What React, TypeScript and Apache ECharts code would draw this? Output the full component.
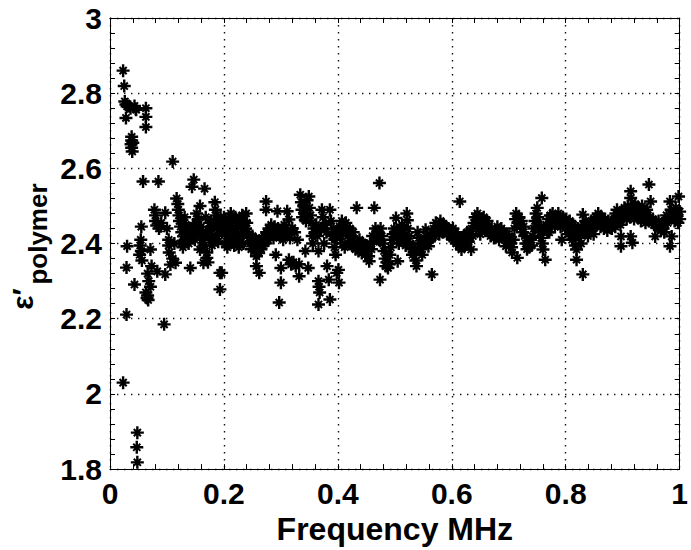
import React, { useEffect, useRef } from "react";
import * as echarts from "echarts";

const xTicks = [0, 0.2, 0.4, 0.6, 0.8, 1];
const yTicks = [1.8, 2, 2.2, 2.4, 2.6, 2.8, 3];
const xTitle = "Frequency MHz";
const yTitleMain = "ε′";
const yTitleSub = "polymer";

// [frequency MHz, permittivity]
const lowBand: number[][] = [
  [0.023, 2.86], [0.025, 2.819], [0.023, 2.03], [0.026, 2.778], [0.028, 2.77], [0.03, 2.765], [0.028, 2.734], [0.029, 2.336], [0.03, 2.393], [0.029, 2.211],
  [0.033, 2.766], [0.036, 2.76], [0.038, 2.684], [0.038, 2.674], [0.037, 2.664], [0.038, 2.655], [0.039, 2.645], [0.04, 2.668],
  [0.043, 2.766], [0.045, 2.758], [0.046, 2.756], [0.043, 2.291], [0.048, 1.897], [0.047, 1.858], [0.048, 1.818],
  [0.054, 2.41], [0.053, 2.395], [0.055, 2.38], [0.052, 2.37], [0.056, 2.355], [0.055, 2.445], [0.058, 2.565],
  [0.063, 2.76], [0.063, 2.737], [0.063, 2.71], [0.063, 2.27], [0.065, 2.255], [0.066, 2.262], [0.067, 2.25], [0.066, 2.32], [0.068, 2.3], [0.071, 2.285], [0.071, 2.384], [0.073, 2.34],
  [0.078, 2.49], [0.08, 2.475], [0.08, 2.46], [0.082, 2.448], [0.083, 2.326], [0.085, 2.565], [0.086, 2.44], [0.089, 2.446], [0.09, 2.455],
  [0.095, 2.185], [0.097, 2.482], [0.097, 2.318], [0.1, 2.44], [0.103, 2.41], [0.103, 2.395], [0.104, 2.376], [0.106, 2.344], [0.11, 2.618], [0.11, 2.36], [0.113, 2.4], [0.115, 2.349],
  [0.117, 2.52], [0.119, 2.505], [0.12, 2.49], [0.121, 2.475], [0.122, 2.46], [0.124, 2.445], [0.126, 2.43], [0.129, 2.419], [0.131, 2.47], [0.133, 2.45], [0.135, 2.44], [0.137, 2.425],
  [0.141, 2.335], [0.144, 2.551], [0.147, 2.57], [0.149, 2.43], [0.149, 2.41], [0.152, 2.48], [0.155, 2.465], [0.158, 2.5], [0.158, 2.384], [0.16, 2.445], [0.163, 2.43], [0.164, 2.349], [0.166, 2.546], [0.168, 2.47], [0.17, 2.376], [0.17, 2.362], [0.172, 2.35], [0.175, 2.455], [0.178, 2.44], [0.18, 2.42],
  [0.184, 2.51], [0.185, 2.49], [0.186, 2.475], [0.187, 2.465], [0.189, 2.45], [0.191, 2.435], [0.193, 2.322], [0.193, 2.278], [0.195, 2.44], [0.196, 2.322], [0.198, 2.455],
  [0.125, 2.4], [0.128, 2.39], [0.132, 2.41], [0.138, 2.4], [0.143, 2.42], [0.146, 2.445], [0.15, 2.455], [0.154, 2.44], [0.157, 2.425], [0.161, 2.41], [0.165, 2.395], [0.167, 2.42], [0.173, 2.435], [0.176, 2.41], [0.179, 2.395], [0.182, 2.45], [0.188, 2.42], [0.19, 2.405], [0.194, 2.47], [0.197, 2.43],
];

const band2to4: number[][] = [
  [0.2, 2.47], [0.201, 2.44], [0.202, 2.4], [0.204, 2.455], [0.205, 2.42], [0.206, 2.39], [0.208, 2.465], [0.209, 2.435], [0.21, 2.405], [0.212, 2.48], [0.213, 2.445], [0.214, 2.415], [0.216, 2.46], [0.217, 2.43], [0.218, 2.395], [0.22, 2.47], [0.221, 2.44], [0.222, 2.41], [0.224, 2.455], [0.225, 2.425], [0.226, 2.39], [0.228, 2.465], [0.229, 2.445], [0.23, 2.42], [0.232, 2.475], [0.233, 2.45], [0.234, 2.4], [0.236, 2.46], [0.238, 2.44], [0.239, 2.48], [0.24, 2.455], [0.241, 2.43],
  [0.244, 2.415], [0.246, 2.4], [0.248, 2.385], [0.25, 2.42], [0.252, 2.395], [0.254, 2.38], [0.256, 2.41], [0.257, 2.366], [0.257, 2.34], [0.259, 2.39], [0.261, 2.375], [0.262, 2.322], [0.263, 2.405], [0.265, 2.385], [0.267, 2.415], [0.269, 2.395], [0.271, 2.42], [0.272, 2.4], [0.274, 2.512], [0.274, 2.49], [0.275, 2.43], [0.277, 2.41], [0.279, 2.44], [0.281, 2.42], [0.283, 2.45],
  [0.285, 2.43], [0.287, 2.415], [0.289, 2.445], [0.291, 2.37], [0.292, 2.425], [0.294, 2.486], [0.295, 2.44], [0.297, 2.243], [0.298, 2.42], [0.3, 2.335], [0.3, 2.296], [0.302, 2.43], [0.304, 2.41], [0.306, 2.45], [0.308, 2.425], [0.311, 2.486], [0.312, 2.435], [0.314, 2.464], [0.314, 2.357], [0.316, 2.415], [0.318, 2.345], [0.32, 2.441], [0.322, 2.35], [0.324, 2.43], [0.326, 2.34], [0.329, 2.41], [0.332, 2.313], [0.332, 2.345],
  [0.334, 2.53], [0.336, 2.51], [0.337, 2.49], [0.338, 2.47], [0.34, 2.5], [0.342, 2.48], [0.343, 2.38], [0.344, 2.46], [0.346, 2.515], [0.348, 2.335], [0.349, 2.525], [0.35, 2.495], [0.352, 2.475], [0.354, 2.455], [0.355, 2.42], [0.356, 2.4], [0.358, 2.44], [0.36, 2.43], [0.362, 2.45],
  [0.364, 2.42], [0.366, 2.38], [0.366, 2.3], [0.367, 2.285], [0.366, 2.238], [0.368, 2.27], [0.37, 2.44], [0.372, 2.49], [0.374, 2.47], [0.376, 2.4], [0.378, 2.45], [0.38, 2.43], [0.381, 2.34], [0.384, 2.304], [0.386, 2.49], [0.386, 2.251], [0.388, 2.46], [0.39, 2.42], [0.392, 2.44], [0.394, 2.39], [0.395, 2.41], [0.396, 2.37], [0.398, 2.322], [0.399, 2.43],
];

const band4to6: number[][] = [
  [0.401, 2.33], [0.402, 2.296], [0.403, 2.445], [0.405, 2.42], [0.407, 2.46], [0.408, 2.4], [0.41, 2.435], [0.412, 2.39], [0.414, 2.455], [0.415, 2.44], [0.417, 2.42], [0.419, 2.4], [0.421, 2.44], [0.423, 2.42], [0.425, 2.395], [0.427, 2.43], [0.429, 2.41], [0.431, 2.385], [0.433, 2.495], [0.434, 2.405], [0.436, 2.38], [0.438, 2.41], [0.44, 2.395], [0.442, 2.375], [0.444, 2.4], [0.446, 2.385], [0.448, 2.37], [0.45, 2.395], [0.452, 2.38], [0.454, 2.366], [0.455, 2.353], [0.457, 2.4], [0.459, 2.385], [0.461, 2.42], [0.463, 2.405], [0.464, 2.495], [0.466, 2.44], [0.468, 2.42], [0.47, 2.43], [0.472, 2.41], [0.473, 2.561], [0.474, 2.304], [0.475, 2.44], [0.477, 2.42], [0.479, 2.4], [0.481, 2.38], [0.483, 2.36], [0.484, 2.34], [0.486, 2.35], [0.488, 2.335], [0.49, 2.345], [0.491, 2.37], [0.493, 2.39], [0.495, 2.41], [0.497, 2.425], [0.499, 2.44],
  [0.501, 2.43], [0.502, 2.468], [0.504, 2.415], [0.505, 2.353], [0.507, 2.4], [0.509, 2.44], [0.511, 2.425], [0.513, 2.45], [0.515, 2.435], [0.517, 2.41], [0.519, 2.395], [0.521, 2.48], [0.522, 2.462], [0.523, 2.44], [0.525, 2.42], [0.527, 2.4], [0.529, 2.385], [0.531, 2.37], [0.533, 2.39], [0.535, 2.376], [0.537, 2.355], [0.538, 2.34], [0.54, 2.43], [0.542, 2.415], [0.544, 2.4], [0.546, 2.385], [0.548, 2.37], [0.55, 2.395], [0.552, 2.41], [0.554, 2.437], [0.556, 2.42], [0.558, 2.405], [0.559, 2.393], [0.562, 2.41], [0.565, 2.318], [0.566, 2.425], [0.568, 2.44], [0.57, 2.42], [0.572, 2.455], [0.574, 2.435], [0.576, 2.445], [0.578, 2.425], [0.58, 2.46], [0.582, 2.44], [0.584, 2.43], [0.586, 2.45], [0.588, 2.435], [0.59, 2.445], [0.592, 2.425], [0.594, 2.44], [0.596, 2.42], [0.598, 2.435],
];

const band6to8: number[][] = [
  [0.6, 2.42], [0.602, 2.44], [0.604, 2.41], [0.606, 2.43], [0.608, 2.4], [0.61, 2.42], [0.612, 2.395], [0.614, 2.512], [0.615, 2.41], [0.617, 2.384], [0.619, 2.4], [0.621, 2.42], [0.623, 2.395], [0.625, 2.41], [0.627, 2.43], [0.629, 2.405], [0.631, 2.42], [0.634, 2.384], [0.635, 2.44], [0.637, 2.42], [0.639, 2.455], [0.641, 2.47], [0.643, 2.445], [0.645, 2.48], [0.647, 2.46], [0.649, 2.44], [0.65, 2.425], [0.652, 2.465], [0.654, 2.445], [0.656, 2.47], [0.658, 2.45], [0.66, 2.435], [0.662, 2.46], [0.664, 2.445], [0.666, 2.43], [0.668, 2.42], [0.67, 2.44], [0.672, 2.425], [0.674, 2.415], [0.676, 2.435], [0.678, 2.42], [0.68, 2.445], [0.682, 2.43], [0.683, 2.41], [0.685, 2.425], [0.687, 2.44], [0.689, 2.42], [0.691, 2.43], [0.693, 2.41], [0.695, 2.393], [0.697, 2.425], [0.699, 2.41],
  [0.701, 2.42], [0.703, 2.4], [0.705, 2.39], [0.706, 2.376], [0.708, 2.41], [0.71, 2.44], [0.712, 2.465], [0.713, 2.48], [0.715, 2.362], [0.716, 2.455], [0.718, 2.47], [0.72, 2.445], [0.722, 2.46], [0.724, 2.43], [0.726, 2.445], [0.728, 2.42], [0.73, 2.4], [0.732, 2.385], [0.734, 2.4], [0.736, 2.39], [0.738, 2.41], [0.74, 2.395], [0.742, 2.42], [0.744, 2.44], [0.746, 2.46], [0.748, 2.48], [0.75, 2.495], [0.751, 2.47], [0.753, 2.45], [0.755, 2.43], [0.757, 2.415], [0.758, 2.521], [0.759, 2.4], [0.76, 2.384], [0.762, 2.44], [0.764, 2.357], [0.766, 2.45], [0.768, 2.43], [0.77, 2.465], [0.771, 2.43], [0.773, 2.475], [0.775, 2.45], [0.777, 2.48], [0.779, 2.46], [0.781, 2.445], [0.783, 2.47], [0.785, 2.455], [0.787, 2.48], [0.789, 2.46], [0.791, 2.445], [0.793, 2.41], [0.795, 2.47], [0.797, 2.455], [0.799, 2.44],
];

const band8to10: number[][] = [
  [0.801, 2.465], [0.803, 2.445], [0.805, 2.425], [0.807, 2.46], [0.809, 2.44], [0.811, 2.41], [0.813, 2.45], [0.815, 2.425], [0.817, 2.395], [0.819, 2.384], [0.819, 2.357], [0.821, 2.44], [0.823, 2.415], [0.825, 2.43], [0.827, 2.4], [0.83, 2.477], [0.83, 2.318], [0.831, 2.45], [0.833, 2.43], [0.835, 2.46], [0.837, 2.44], [0.839, 2.42], [0.841, 2.45], [0.843, 2.435], [0.845, 2.46], [0.847, 2.44], [0.849, 2.425], [0.851, 2.455], [0.853, 2.47], [0.855, 2.45], [0.857, 2.48], [0.859, 2.46], [0.861, 2.445], [0.863, 2.47], [0.865, 2.455], [0.867, 2.44], [0.869, 2.465], [0.871, 2.45], [0.873, 2.435], [0.875, 2.46], [0.877, 2.445], [0.879, 2.455], [0.881, 2.44], [0.883, 2.45], [0.885, 2.465], [0.887, 2.445], [0.888, 2.48], [0.89, 2.49], [0.892, 2.475], [0.894, 2.46], [0.896, 2.45], [0.897, 2.419], [0.897, 2.393], [0.899, 2.485],
  [0.901, 2.47], [0.903, 2.495], [0.905, 2.48], [0.907, 2.465], [0.909, 2.5], [0.911, 2.485], [0.913, 2.47], [0.914, 2.539], [0.914, 2.521], [0.914, 2.419], [0.917, 2.402], [0.916, 2.495], [0.918, 2.48], [0.92, 2.465], [0.922, 2.505], [0.924, 2.49], [0.926, 2.47], [0.928, 2.495], [0.93, 2.48], [0.932, 2.46], [0.934, 2.5], [0.936, 2.485], [0.938, 2.47], [0.94, 2.455], [0.942, 2.49], [0.944, 2.475], [0.946, 2.557], [0.946, 2.46], [0.948, 2.47], [0.949, 2.512], [0.951, 2.455], [0.953, 2.465], [0.955, 2.45], [0.957, 2.419], [0.959, 2.455], [0.961, 2.445], [0.963, 2.46], [0.965, 2.445], [0.967, 2.435], [0.969, 2.45], [0.971, 2.44], [0.973, 2.43], [0.975, 2.46], [0.977, 2.475], [0.979, 2.455], [0.981, 2.47], [0.983, 2.512], [0.983, 2.393], [0.985, 2.49], [0.986, 2.419], [0.987, 2.47], [0.989, 2.48], [0.991, 2.46], [0.993, 2.495], [0.995, 2.475], [0.997, 2.455], [0.998, 2.525], [1.0, 2.485], [1.0, 2.465],
];

const ASTERISK =
  "path://M5.7 0L8.3 0L8.3 14L5.7 14Z M0 5.7L14 5.7L14 8.3L0 8.3Z M2.4 3.9L3.9 2.4L11.6 10.1L10.1 11.6Z M10.1 2.4L11.6 3.9L3.9 11.6L2.4 10.1Z M4.5 4.5L9.5 4.5L9.5 9.5L4.5 9.5Z";

const FONT = "'Liberation Sans', Arial, sans-serif";

export default function App() {
  const ref = useRef<HTMLDivElement>(null);
  useEffect(() => {
    if (!ref.current) return;
    const chart = echarts.init(ref.current, null, { renderer: "svg" });
    const allPoints = [...lowBand, ...band2to4, ...band4to6, ...band6to8, ...band8to10];
    const labelStyle = { color: "#000", fontFamily: FONT, fontWeight: "bold" as const, fontSize: 30 };
    const dotted = { color: "#111", width: 1.4, type: [1.4, 5.6] as any };
    const xMin = xTicks[0], xMax = xTicks[xTicks.length - 1];
    const yMin = yTicks[0], yMax = yTicks[yTicks.length - 1];
    const edgeAxis = {
      axisLine: { show: true, onZero: false, lineStyle: { color: "#000", width: 1 } },
      axisTick: { show: true, inside: true, length: 5, lineStyle: { color: "#000" } },
      minorTick: { show: true, splitNumber: 5, length: 5, lineStyle: { color: "#000" } },
    };
    chart.setOption({
      animation: false,
      backgroundColor: "#fff",
      grid: { left: 110, right: 3, top: 18, bottom: 80, containLabel: false },
      xAxis: [
        {
          type: "value", min: xMin, max: xMax, interval: 0.2, position: "bottom", ...edgeAxis,
          axisLabel: { ...labelStyle, margin: 9 },
          splitLine: { show: true, lineStyle: dotted },
          name: xTitle, nameLocation: "middle", nameGap: 42,
          nameTextStyle: { ...labelStyle, fontSize: 32 },
        },
        {
          type: "value", min: xMin, max: xMax, interval: 0.2, position: "top", ...edgeAxis,
          axisLabel: { show: false }, splitLine: { show: false },
        },
      ],
      yAxis: [
        {
          type: "value", min: yMin, max: yMax, interval: 0.2, position: "left", ...edgeAxis,
          axisLabel: { ...labelStyle, margin: 8, formatter: (v: number) => String(Math.round(v * 10) / 10) },
          splitLine: { show: true, lineStyle: dotted },
        },
        {
          type: "value", min: yMin, max: yMax, interval: 0.2, position: "right", ...edgeAxis,
          axisLabel: { show: false }, splitLine: { show: false },
        },
      ],
      graphic: [
        {
          type: "text", x: 22, y: 299, rotation: Math.PI / 2,
          style: { text: yTitleMain, fill: "#000", font: `bold 30px ${FONT}`, align: "center", verticalAlign: "middle" },
        },
        {
          type: "text", x: 38, y: 234, rotation: Math.PI / 2,
          style: { text: yTitleSub, fill: "#000", font: `bold 26px ${FONT}`, align: "center", verticalAlign: "middle" },
        },
      ],
      series: [
        {
          type: "scatter", xAxisIndex: 0, yAxisIndex: 0,
          data: allPoints, symbol: ASTERISK, symbolSize: 13,
          itemStyle: { color: "#000", opacity: 1 }, silent: true,
        },
      ],
    });
    return () => chart.dispose();
  }, []);
  return <div ref={ref} style={{ position: "fixed", left: 0, top: 0, width: 691, height: 550 }} />;
}
